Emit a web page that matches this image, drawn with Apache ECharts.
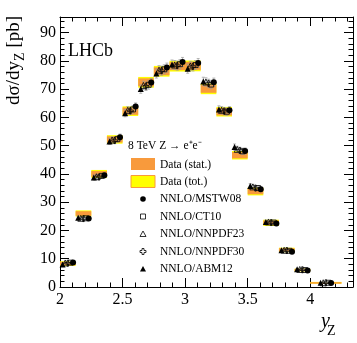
<!DOCTYPE html>
<html lang="en">
<head>
    <meta charset="UTF-8">
    <title>LHCb Z to ee</title>
    <script src="https://cdn.jsdelivr.net/npm/echarts@6/dist/echarts.min.js"></script>
    <style>
        body { margin: 0; background: #fff; }
    </style>
</head>
<body>
    <div id="main" style="width: 357px;height:343px;"></div>
    <script type="text/javascript">
        // bins in y_Z
        const binLo = [2.0, 2.125, 2.25, 2.375, 2.5, 2.625, 2.75, 2.875, 3.0, 3.125, 3.25, 3.375, 3.5, 3.625, 3.75, 3.875, 4.0]
        const binHi = [2.125, 2.25, 2.375, 2.5, 2.625, 2.75, 2.875, 3.0, 3.125, 3.25, 3.375, 3.5, 3.625, 3.75, 3.875, 4.0, 4.25]

        // measured cross-section [pb] with stat. and total uncertainty
        const dataVal = [8.3, 26.0, 40.0, 52.2, 62.2, 72.4, 76.3, 78.1, 78.2, 70.1, 62.0, 46.6, 33.8, 22.7, 13.1, 6.0, 1.5]
        const statErr = [0.6, 0.8, 1.0, 1.1, 1.3, 1.4, 1.4, 1.4, 1.4, 1.4, 1.3, 1.1, 1.0, 0.8, 0.6, 0.4, 0.2]
        const totErr = [0.8, 1.1, 1.4, 1.5, 1.7, 1.9, 1.9, 1.9, 1.9, 1.9, 1.7, 1.5, 1.4, 1.1, 0.8, 0.5, 0.3]

        // NNLO predictions
        const mstw08 = [8.7, 24.2, 39.5, 53.0, 63.8, 72.3, 77.6, 79.6, 79.2, 72.4, 62.5, 48.1, 34.6, 22.5, 12.5, 5.8, 1.4]
        const ct10 = [8.6, 24.3, 39.3, 52.3, 62.8, 71.5, 77.0, 78.8, 78.5, 71.6, 62.0, 48.0, 35.0, 22.8, 12.8, 6.0, 1.5]
        const nnpdf23 = [8.5, 24.3, 39.0, 52.0, 62.5, 71.3, 76.7, 78.5, 78.2, 72.5, 62.5, 48.7, 35.4, 23.0, 13.0, 6.2, 1.5]
        const nnpdf30 = [8.4, 24.2, 38.9, 51.8, 62.3, 71.0, 76.5, 78.3, 78.0, 72.0, 62.2, 48.3, 35.0, 22.8, 12.9, 6.1, 1.5]
        const abm12 = [8.0, 24.5, 38.7, 51.5, 61.5, 70.0, 75.5, 78.7, 77.2, 72.7, 62.8, 49.5, 35.7, 23.0, 13.0, 6.3, 1.5]
        const theoryErr = [0.3, 0.6, 0.9, 1.1, 1.3, 1.5, 1.6, 1.6, 1.6, 1.5, 1.3, 1.1, 0.9, 0.6, 0.4, 0.2, 0.1]

        const xTicks = [2, 2.5, 3, 3.5, 4]
        const yTicks = [0, 10, 20, 30, 40, 50, 60, 70, 80, 90]

        const font = 'Liberation Serif'
        const orange = '#F89A3C'
        const yellow = '#FFFF00'
        const crossPath = 'path://M3,0 L5,0 L5,3 L8,3 L8,5 L5,5 L5,8 L3,8 L3,5 L0,5 L0,3 L3,3 Z'

        // models left to right inside each bin
        const models = [
            { name: 'NNLO/ABM12', vals: abm12, symbol: 'triangle', size: 6, fill: '#000', off: -0.042 },
            { name: 'NNLO/NNPDF23', vals: nnpdf23, symbol: 'triangle', size: 6, fill: 'none', off: -0.021 },
            { name: 'NNLO/NNPDF30', vals: nnpdf30, symbol: crossPath, size: 6, fill: 'none', off: 0 },
            { name: 'NNLO/CT10', vals: ct10, symbol: 'rect', size: 5, fill: 'none', off: 0.021 },
            { name: 'NNLO/MSTW08', vals: mstw08, symbol: 'circle', size: 6, fill: '#000', off: 0.042 }
        ]

        function boxSeries(err, color) {
            return {
                type: 'custom',
                clip: true,
                data: dataVal.map((v, i) => [binLo[i], binHi[i], v - err[i], v + err[i]]),
                renderItem: function (params, api) {
                    const p1 = api.coord([api.value(0), api.value(3)])
                    const p2 = api.coord([api.value(1), api.value(2)])
                    return {
                        type: 'rect',
                        shape: { x: p1[0], y: p1[1], width: p2[0] - p1[0], height: Math.max(p2[1] - p1[1], 1.5) },
                        style: { fill: color }
                    }
                }
            }
        }

        const series = [boxSeries(totErr, yellow), boxSeries(statErr, orange)]

        // theory uncertainty bars
        const errData = []
        models.forEach(m => {
            m.vals.forEach((v, i) => {
                const xc = (binLo[i] + binHi[i]) / 2 + m.off
                errData.push([xc, v - theoryErr[i], v + theoryErr[i]])
            })
        })
        series.push({
            type: 'custom',
            clip: true,
            data: errData,
            renderItem: function (params, api) {
                const lo = api.coord([api.value(0), api.value(1)])
                const hi = api.coord([api.value(0), api.value(2)])
                const st = { stroke: '#999', lineWidth: 0.7 }
                return {
                    type: 'group',
                    children: [
                        { type: 'line', shape: { x1: lo[0], y1: lo[1], x2: hi[0], y2: hi[1] }, style: st },
                        { type: 'line', shape: { x1: lo[0] - 1.5, y1: lo[1], x2: lo[0] + 1.5, y2: lo[1] }, style: st },
                        { type: 'line', shape: { x1: hi[0] - 1.5, y1: hi[1], x2: hi[0] + 1.5, y2: hi[1] }, style: st }
                    ]
                }
            }
        })

        models.forEach(m => {
            series.push({
                name: m.name,
                type: 'scatter',
                symbol: m.symbol,
                symbolSize: m.size,
                itemStyle: { color: m.fill, borderColor: '#000', borderWidth: m.fill === 'none' ? 0.8 : 0, opacity: 1 },
                data: m.vals.map((v, i) => [(binLo[i] + binHi[i]) / 2 + m.off, v])
            })
        })

        function frameAxis(pos, min, max, interval, ticks, isX) {
            return {
                type: 'value',
                position: pos,
                min: min, max: max, interval: interval,
                axisLine: { show: true, onZero: false, lineStyle: { color: '#000', width: 1 } },
                axisTick: { show: true, inside: true, length: 9, lineStyle: { color: '#000' } },
                minorTick: { show: true, splitNumber: 5, length: 4.5, lineStyle: { color: '#000' } },
                splitLine: { show: false },
                minorSplitLine: { show: false },
                axisLabel: {
                    show: pos === 'bottom' || pos === 'left',
                    showMaxLabel: false,
                    color: '#000', fontFamily: font, fontSize: 16,
                    margin: isX ? 5 : 4,
                    formatter: v => ticks.indexOf(v) >= 0 ? String(v) : ''
                }
            }
        }

        const lx = 143
        const legendRows = [
            { y: 199, text: 'NNLO/MSTW08' },
            { y: 216.5, text: 'NNLO/CT10' },
            { y: 234, text: 'NNLO/NNPDF23' },
            { y: 251.5, text: 'NNLO/NNPDF30' },
            { y: 269, text: 'NNLO/ABM12' }
        ]
        const lf = '11.5px "' + font + '"'

        const graphic = [
            { type: 'text', left: 68, top: 42, style: { text: 'LHCb', font: '18px "' + font + '"', fill: '#000' } },
            {
                type: 'text', x: 14, y: 16, rotation: Math.PI / 2,
                style: {
                    text: 'dσ/dy{s|Z} [pb]', align: 'right', verticalAlign: 'middle',
                    font: '19px "' + font + '"', fill: '#000',
                    rich: { s: { fontFamily: font, fontSize: 14, padding: [12, 0, 0, 0] } }
                }
            },
            { type: 'text', x: 321, y: 312, style: { text: 'y', font: 'italic 20px "' + font + '"', fill: '#000' } },
            { type: 'text', x: 327, y: 324, style: { text: 'Z', font: '14px "' + font + '"', fill: '#000' } },
            { type: 'text', x: 128, y: 146, style: { text: '8 TeV Z → e⁺e⁻', font: lf, fill: '#000', verticalAlign: 'middle' } },
            { type: 'rect', shape: { x: 131, y: 158, width: 24, height: 12 }, style: { fill: orange } },
            { type: 'text', x: 160, y: 164.5, style: { text: 'Data (stat.)', font: lf, fill: '#000', verticalAlign: 'middle' } },
            { type: 'rect', shape: { x: 131, y: 175.5, width: 24, height: 12 }, style: { fill: yellow, stroke: orange, lineWidth: 1 } },
            { type: 'text', x: 160, y: 181.5, style: { text: 'Data (tot.)', font: lf, fill: '#000', verticalAlign: 'middle' } },
            // legend markers
            { type: 'circle', shape: { cx: lx, cy: legendRows[0].y, r: 2.8 }, style: { fill: '#000' } },
            { type: 'rect', shape: { x: lx - 2.5, y: legendRows[1].y - 2.5, width: 5, height: 5 }, style: { fill: 'none', stroke: '#000', lineWidth: 0.8 } },
            { type: 'polygon', shape: { points: [[lx, legendRows[2].y - 3], [lx + 3, legendRows[2].y + 2.5], [lx - 3, legendRows[2].y + 2.5]] }, style: { fill: 'none', stroke: '#000', lineWidth: 0.8 } },
            {
                type: 'polygon', shape: {
                    points: [[-1, -3], [1, -3], [1, -1], [3, -1], [3, 1], [1, 1], [1, 3], [-1, 3], [-1, 1], [-3, 1], [-3, -1], [-1, -1]]
                        .map(p => [lx + p[0], legendRows[3].y + p[1]])
                }, style: { fill: 'none', stroke: '#000', lineWidth: 0.8 }
            },
            { type: 'polygon', shape: { points: [[lx, legendRows[4].y - 3], [lx + 3, legendRows[4].y + 2.5], [lx - 3, legendRows[4].y + 2.5]] }, style: { fill: '#000' } }
        ]
        legendRows.forEach(r => {
            graphic.push({ type: 'text', x: 160, y: r.y, style: { text: r.text, font: lf, fill: '#000', verticalAlign: 'middle' } })
        })

        let options = {
            animation: false,
            backgroundColor: '#fff',
            grid: { left: 60, right: 4, top: 17, bottom: 56 },
            xAxis: [
                frameAxis('bottom', 2, 4.342, 0.5, xTicks, true),
                frameAxis('top', 2, 4.342, 0.5, xTicks, true)
            ],
            yAxis: [
                frameAxis('left', 0, 95.5, 10, yTicks, false),
                frameAxis('right', 0, 95.5, 10, yTicks, false)
            ],
            graphic: graphic,
            series: series
        }

        let myChart = echarts.init(document.getElementById('main'));
        myChart.setOption(options);
    </script>
</body>
</html>
